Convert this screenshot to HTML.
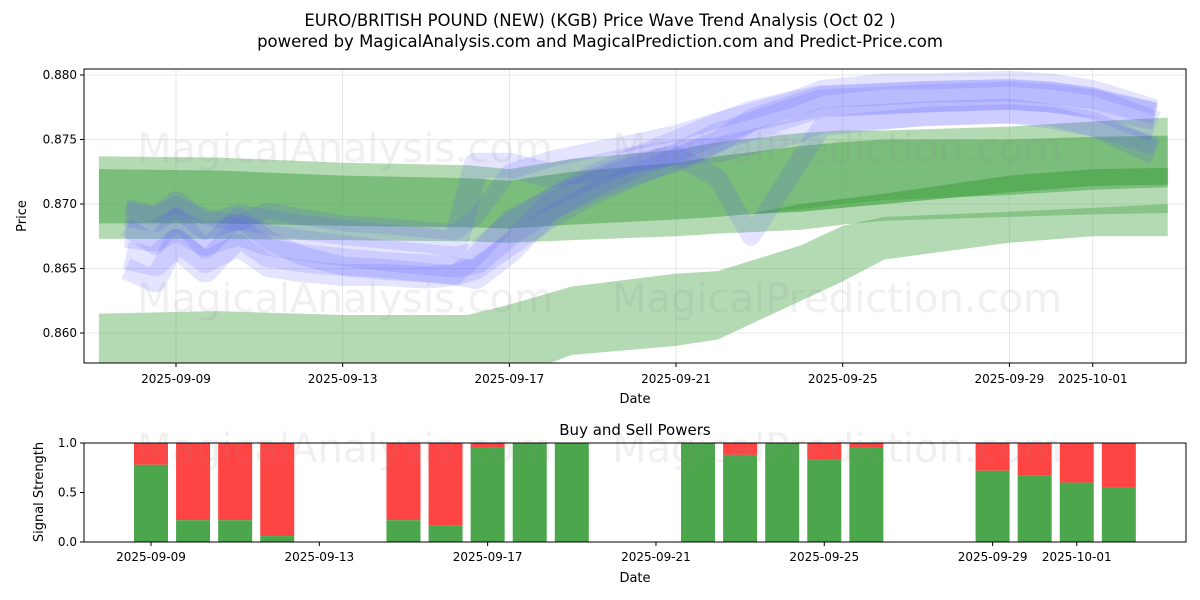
<!DOCTYPE html>
<html><head><meta charset="utf-8"><style>
body{margin:0;background:#fff;}
svg{display:block;font-family:"DejaVu Sans","Liberation Sans",sans-serif;}
</style></head><body>
<svg id="c" width="1200" height="600" viewBox="0 0 1200 600">
<text x="600" y="26" text-anchor="middle" font-size="16.5">EURO/BRITISH POUND (NEW) (KGB) Price Wave Trend Analysis (Oct 02 )</text>
<text x="600" y="47" text-anchor="middle" font-size="16.5">powered by MagicalAnalysis.com and MagicalPrediction.com and Predict-Price.com</text>
<g id="main"></g>
<g id="sub"></g>
</svg>
<script>
// ---- data ----
const yTicks=[0.860,0.865,0.870,0.875,0.880];
const xTickLabels=["2025-09-09","2025-09-13","2025-09-17","2025-09-21","2025-09-25","2025-09-29","2025-10-01"];
const xTickDays=[0,4,8,12,16,20,22];
// green bands (day offset from 2025-09-09)
const gDays=[-1.85,1,4,7,8,9.5,12,13,15,16,17,20,22,23.8];
const g1Up=[.8737,.8736,.8732,.8730,.8727,.8735,.8742,.8748,.8755,.8757,.8757,.8760,.8764,.8767];
const g1Lo=[.8673,.8673,.8672,.8671,.8670,.8672,.8675,.8677,.8680,.8684,.8687,.8690,.8692,.8693];
const g2Up=[.8615,.8617,.8614,.8614,.8622,.8636,.8646,.8648,.8668,.8683,.8690,.8694,.8697,.8700];
const g2Lo=[.8560,.8560,.8560,.8560,.8565,.8583,.8590,.8595,.8625,.8640,.8657,.8670,.8675,.8675];
const g3Up=[.8727,.8726,.8722,.8720,.8718,.8725,.8732,.8737,.8745,.8748,.8750,.8750,.8752,.8753];
const g3Lo=[.8685,.8685,.8683,.8682,.8681,.8684,.8688,.8690,.8696,.8700,.8703,.8707,.8711,.8713];
const g4Days=[13.7,15,17,20,22,23.8];
const g4Up=[.8692,.8700,.8708,.8722,.8727,.8728];
const g4Lo=[.8692,.8694,.8700,.8709,.8714,.8715];
// blue wave series
const bDays=[-1.2,-0.5,0,0.7,1.5,2.2,3,4,5,6,6.7,7.2,8,9,10,11,12,13,13.8,14.7,15.5,17,18,20,21,22,23.5];
const bSeries=[
[.8698,.8692,.8700,.8690,.8685,.8695,.8690,.8685,.8683,.8680,.8678,.8690,.8725,.8735,.8742,.8748,.8755,.8765,.8772,.8780,.8790,.8795,.8795,.8797,.8795,.8790,.8775],
[.8682,.8668,.8690,.8665,.8690,.8672,.8660,.8652,.8650,.8647,.8645,.8660,.8688,.8705,.8720,.8732,.8738,.8720,.8675,.8720,.8760,.8765,.8768,.8770,.8768,.8760,.8745],
[.8650,.8640,.8672,.8655,.8668,.8652,.8648,.8645,.8645,.8643,.8645,.8650,.8668,.8690,.8708,.8722,.8735,.8748,.8765,.8775,.8783,.8785,.8787,.8788,.8786,.8782,.8770],
[.8692,.8688,.8700,.8682,.8690,.8686,.8682,.8678,.8675,.8672,.8668,.8730,.8730,.8722,.8728,.8735,.8740,.8742,.8748,.8755,.8765,.8768,.8770,.8772,.8768,.8762,.8740],
[.8660,.8655,.8670,.8650,.8678,.8662,.8658,.8655,.8652,.8650,.8648,.8645,.8665,.8698,.8714,.8726,.8736,.8752,.8760,.8770,.8778,.8780,.8782,.8784,.8782,.8778,.8768],
[.8678,.8675,.8684,.8672,.8680,.8672,.8668,.8664,.8660,.8657,.8655,.8658,.8680,.8700,.8718,.8732,.8745,.8758,.8768,.8775,.8780,.8782,.8783,.8785,.8783,.8778,.8760]
];
// buy/sell
const bsDays=[0,1,2,3,6,7,8,9,10,13,14,15,16,17,20,21,22,23];
const buyVals=[0.78,0.22,0.22,0.06,0.22,0.17,0.95,1.0,1.0,1.0,0.88,1.0,0.83,0.95,0.72,0.67,0.60,0.55];
const bsTicks=[0,0.5,1.0];

// ---- scales ----
const NS="http://www.w3.org/2000/svg";
const X0=84,X1=1186,Y0=69,Y1=363;
const xM=d=>176+d*41.67;
const yM=v=>75+(0.880-v)*12900;
const xS=d=>151+d*42.08;
const yS=v=>542-v*99;
function mk(tag,attrs,parent){const e=document.createElementNS(NS,tag);for(const k in attrs)e.setAttribute(k,attrs[k]);parent.appendChild(e);return e;}
const main=document.getElementById('main'),sub=document.getElementById('sub'),svg=document.getElementById('c');
const defs=mk('defs',{},svg);
const cp=mk('clipPath',{id:'cm'},defs);mk('rect',{x:X0,y:Y0,width:X1-X0,height:Y1-Y0},cp);

xTickDays.forEach((d,i)=>{
 const g=mk('line',{x1:xM(d),x2:xM(d),y1:Y0,y2:Y1,stroke:'#e0e0e0','stroke-width':0.8},main);
 
 mk('line',{x1:xM(d),x2:xM(d),y1:Y1,y2:Y1+4,stroke:'#000'},main);
 const t=mk('text',{x:xM(d),y:Y1+20,'text-anchor':'middle','font-size':12},main);t.textContent=xTickLabels[i];
 
});
yTicks.forEach(v=>{
 const g=mk('line',{x1:X0,x2:X1,y1:yM(v),y2:yM(v),stroke:'#e0e0e0','stroke-width':0.8},main);
 
 mk('line',{x1:X0-4,x2:X0,y1:yM(v),y2:yM(v),stroke:'#000'},main);
 const t=mk('text',{x:X0-7,y:yM(v)+4,'text-anchor':'end','font-size':12},main);t.textContent=v.toFixed(3);
 
});
const plot=mk('g',{'clip-path':'url(#cm)'},main);
function band(days,up,lo,op,name){
 let p=days.map((d,i)=>xM(d)+','+yM(up[i]));
 for(let i=days.length-1;i>=0;i--)p.push(xM(days[i])+','+yM(lo[i]));
 const e=mk('polygon',{points:p.join(' '),fill:'#4ca64c','fill-opacity':op},plot);
 
}
band(gDays,g1Up,g1Lo,0.42,'green-band-outer');
band(gDays,g2Up,g2Lo,0.42,'green-band-lower');
band(gDays,g3Up,g3Lo,0.55,'green-band-inner');
band(g4Days,g4Up,g4Lo,0.7,'green-band-core');
bSeries.forEach((s,k)=>{
 const pts=bDays.map((d,i)=>xM(d)+','+yM(s[i])).join(' ');
 const e=mk('polyline',{points:pts,fill:'none',stroke:'#5555ff','stroke-opacity':0.16,'stroke-width':16+k*3,'stroke-linejoin':'round'},plot);
 
});
[[345,148,'MagicalAnalysis.com'],[837,148,'MagicalPrediction.com'],[345,298,'MagicalAnalysis.com'],[837,298,'MagicalPrediction.com']].forEach(w=>{
 const t=mk('text',{x:w[0],y:w[1]+14,'text-anchor':'middle','font-size':40,fill:'#888','fill-opacity':0.13},main);t.textContent=w[2];
 
});
mk('rect',{x:X0,y:Y0,width:X1-X0,height:Y1-Y0,fill:'none',stroke:'#000','stroke-width':1},main);
let t=mk('text',{x:635,y:403,'text-anchor':'middle','font-size':13},main);t.textContent='Date';

t=mk('text',{x:26,y:216,'text-anchor':'middle','font-size':13,transform:'rotate(-90 26 216)'},main);t.textContent='Price';


const S0=443,S1=542;
t=mk('text',{x:635,y:435,'text-anchor':'middle','font-size':15},sub);t.textContent='Buy and Sell Powers';

bsDays.forEach((d,i)=>{
 const x=xS(d)-17,b=buyVals[i];
 const r=mk('rect',{x:x,y:yS(1),width:34,height:yS(b)-yS(1),fill:'#ff4444'},sub);
 
 const g=mk('rect',{x:x,y:yS(b),width:34,height:yS(0)-yS(b),fill:'#4ca64c'},sub);
 
});
[[345,'MagicalAnalysis.com'],[837,'MagicalPrediction.com']].forEach(w=>{
 const tt=mk('text',{x:w[0],y:462,'text-anchor':'middle','font-size':40,fill:'#888','fill-opacity':0.13},sub);tt.textContent=w[1];
 
});
xTickDays.forEach((d,i)=>{
 mk('line',{x1:xS(d),x2:xS(d),y1:S1,y2:S1+4,stroke:'#000'},sub);
 const tt=mk('text',{x:xS(d),y:S1+19,'text-anchor':'middle','font-size':12},sub);tt.textContent=xTickLabels[i];
 
});
bsTicks.forEach(v=>{
 mk('line',{x1:X0-4,x2:X0,y1:yS(v),y2:yS(v),stroke:'#000'},sub);
 const tt=mk('text',{x:X0-7,y:yS(v)+4,'text-anchor':'end','font-size':12},sub);tt.textContent=v.toFixed(1);
 
});
mk('rect',{x:X0,y:S0,width:X1-X0,height:S1-S0,fill:'none',stroke:'#000','stroke-width':1},sub);
t=mk('text',{x:635,y:582,'text-anchor':'middle','font-size':13},sub);t.textContent='Date';

t=mk('text',{x:43,y:492,'text-anchor':'middle','font-size':13,transform:'rotate(-90 43 492)'},sub);t.textContent='Signal Strength';

</script>
</body></html>
